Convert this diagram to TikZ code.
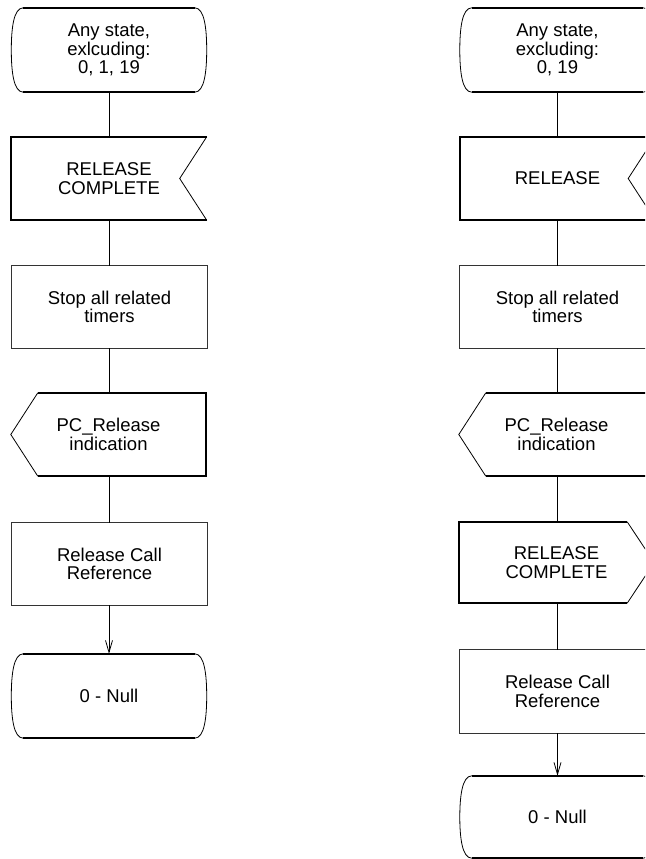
\documentclass[tikz,border=0pt]{standalone}
\usepackage{fontspec}
\setmainfont{Liberation Sans}
\usetikzlibrary{arrows.meta}
\tikzset{
  sdlbox/.style={minimum width=195pt, minimum height=83pt, inner sep=0pt, align=center,
    font=\fontsize{18.5}{18.3}\selectfont},
  thk/.style={line width=1.8pt},
  thn/.style={line width=0.8pt},
  proc/.style={line width=1.1pt, draw=black!80},
  conn/.style={line width=0.8pt},
  arr/.style={conn, -{Straight Barb[length=12pt,width=7pt,line width=0.8pt]}}
}
\newcommand\sdlstate[1]{%
  \draw[thk] ([xshift=12pt]#1.north west) -- ([xshift=-12pt]#1.north east);
  \draw[thk] ([xshift=12pt]#1.south west) -- ([xshift=-12pt]#1.south east);
  \draw[thn] ([xshift=12pt]#1.north west) .. controls ([xshift=2pt]#1.north west) and ([yshift=-22pt]#1.north west) .. (#1.west)
     .. controls ([yshift=22pt]#1.south west) and ([xshift=2pt]#1.south west) .. ([xshift=12pt]#1.south west);
  \draw[thn] ([xshift=-12pt]#1.north east) .. controls ([xshift=-2pt]#1.north east) and ([yshift=-22pt]#1.north east) .. (#1.east)
     .. controls ([yshift=22pt]#1.south east) and ([xshift=-2pt]#1.south east) .. ([xshift=-12pt]#1.south east);}
\newcommand\sdlinput[1]{%
  \draw[thk] (#1.north east) -- (#1.north west) -- (#1.south west) -- (#1.south east);
  \draw[thn] (#1.north east) -- ([xshift=-27pt]#1.east) -- (#1.south east);}
\newcommand\sdloutleft[1]{%
  \draw[thk] ([xshift=27pt]#1.north west) -- (#1.north east) -- (#1.south east) -- ([xshift=27pt]#1.south west);
  \draw[thn] ([xshift=27pt]#1.north west) -- (#1.west) -- ([xshift=27pt]#1.south west);}
\newcommand\sdloutright[1]{%
  \draw[thk] ([xshift=-27pt]#1.north east) -- (#1.north west) -- (#1.south west) -- ([xshift=-27pt]#1.south east);
  \draw[thn] ([xshift=-27pt]#1.north east) -- (#1.east) -- ([xshift=-27pt]#1.south east);}
\newcommand\sdlproc[1]{%
  \draw[proc] (#1.north west) rectangle (#1.south east);}
\begin{document}
\begin{tikzpicture}[x=1pt,y=-1pt]
\useasboundingbox (0,0) rectangle (645,859);
\clip (0,0) rectangle (645,859);
% left column
\node[sdlbox, minimum height=84pt] (ls) at (109,50) {Any state,\\exlcuding:\\0, 1, 19};
\node[sdlbox] (li) at (109,178.5) {RELEASE\\COMPLETE};
\node[sdlbox, minimum height=82pt] (lp1) at (109.5,307) {Stop all related\\timers};
\node[sdlbox] (lo) at (108.5,434.5) {PC\_Release\\indication};
\node[sdlbox, minimum height=82pt] (lp2) at (109.5,564) {Release Call\\Reference};
\node[sdlbox, minimum height=84pt] (ln) at (109,696) {0 - Null};
\sdlstate{ls}
\sdlinput{li}
\sdlproc{lp1}
\sdloutleft{lo}
\sdlproc{lp2}
\sdlstate{ln}
\draw[conn] (ls.south) -- (ls.south |- li.north);
\draw[conn] (li.south -| ls.south) -- (ls.south |- lp1.north);
\draw[conn] (lp1.south -| ls.south) -- (ls.south |- lo.north);
\draw[conn] (lo.south -| ls.south) -- (ls.south |- lp2.north);
\draw[arr] (lp2.south -| ls.south) -- (ls.south |- ln.north);
% right column
\node[sdlbox, minimum height=84pt] (rs) at (557.5,50) {Any state,\\excluding:\\0, 19};
\node[sdlbox] (ri) at (557.5,178.5) {RELEASE};
\node[sdlbox, minimum height=82pt] (rp1) at (557.5,307) {Stop all related\\timers};
\node[sdlbox] (ro) at (556.5,434.5) {PC\_Release\\indication};
\node[sdlbox, minimum height=81pt] (ro2) at (556.5,562.5) {RELEASE\\COMPLETE};
\node[sdlbox] (rp2) at (557.5,691.5) {Release Call\\Reference};
\node[sdlbox, minimum height=82pt] (rn) at (557.5,817) {0 - Null};
\sdlstate{rs}
\sdlinput{ri}
\sdlproc{rp1}
\sdloutleft{ro}
\sdloutright{ro2}
\sdlproc{rp2}
\sdlstate{rn}
\draw[conn] (rs.south) -- (rs.south |- ri.north);
\draw[conn] (ri.south -| rs.south) -- (rs.south |- rp1.north);
\draw[conn] (rp1.south -| rs.south) -- (rs.south |- ro.north);
\draw[conn] (ro.south -| rs.south) -- (rs.south |- ro2.north);
\draw[conn] (ro2.south -| rs.south) -- (rs.south |- rp2.north);
\draw[arr] (rp2.south -| rs.south) -- (rs.south |- rn.north);
\end{tikzpicture}
\end{document}
